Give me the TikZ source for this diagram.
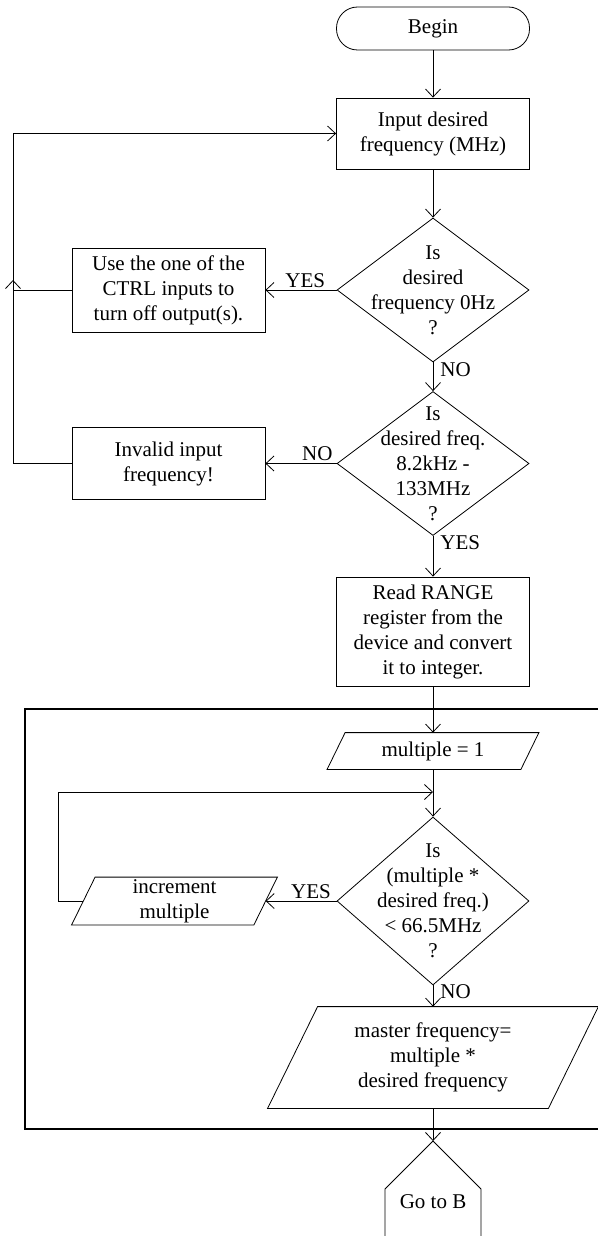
\documentclass[tikz,border=0pt]{standalone}
\usepackage{fontspec}
\setmainfont{Liberation Serif}
\usetikzlibrary{shapes.geometric,arrows.meta}
% parallelogram round a plain node: #1 node name, #2 half of the slant
\newcommand{\paral}[2]{\draw ([xshift=#2]#1.north west) -- ([xshift=#2]#1.north east)
    -- ([xshift=-#2]#1.south east) -- ([xshift=-#2]#1.south west) -- cycle;}
\begin{document}
\begin{tikzpicture}[x=1pt, y=-1pt, line width=0.8pt,
    every node/.style={font=\fontsize{21}{25}\selectfont, align=center, inner sep=0pt},
    arr/.style={-{Straight Barb[length=8pt,width=15pt]}},
    term/.style={draw, rectangle, rounded corners=21pt, minimum width=193pt, minimum height=43pt},
    proc/.style={draw, rectangle, minimum width=193pt},
    dec/.style={draw, diamond, minimum width=192pt},
    io/.style={rectangle},
    lbl/.style={inner sep=2pt},
    side/.style={lbl, right, xshift=5pt},
    frame/.style={line width=2pt}]
    \useasboundingbox (0,0) rectangle (597,1236);
    % main column
    \node[term] (begin) at (433,28.5) {Begin};
    \node[proc, minimum height=71pt] (input) at (433,133.5) {Input desired\\frequency (MHz)};
    \node[dec, minimum height=144pt] (isz) at (433,290) {};
    \node (iszt) at (isz) {Is\\desired\\frequency 0Hz\\?};
    \node[proc, minimum height=84pt] (ctrl) at (168.5,290) {Use the one of the\\CTRL inputs to\\turn off output(s).};
    \node[dec, minimum height=144pt] (isrng) at (433,463.5) {};
    \node (isrngt) at (isrng) {Is\\desired freq.\\8.2kHz -\\133MHz\\?};
    \node[proc, minimum height=72pt] (inval) at (168.5,463.5) {Invalid input\\frequency!};
    \node[proc, minimum height=109pt] (range) at (433,631.5) {Read RANGE\\register from the\\device and convert\\it to integer.};
    % frame part
    \draw[frame] (615,709) -- (25,709) -- (25,1129) -- (615,1129);
    \node[io, minimum width=193pt, minimum height=36pt] (mult) at (433,751) {multiple = 1};
    \paral{mult}{9pt}
    \node[dec, minimum height=168pt] (islow) at (433,901) {};
    \node (islowt) at (islow) {Is\\(multiple *\\desired freq.)\\< 66.5MHz\\?};
    \node[io, minimum width=181.5pt, minimum height=47pt] (incr) at (174.5,901) {increment\\multiple};
    \paral{incr}{11.75pt}
    \node[io, minimum width=280pt, minimum height=101pt] (master) at (433,1057.5) {master frequency=\\multiple *\\desired frequency};
    \paral{master}{25pt}
    % off page
    \node (gob) at (433,1202) {Go to B};
    \coordinate (gotop) at (433,1141);
    \draw (385,1250) -- (385,1189) -- (gotop) -- (481,1189) -- (481,1250);
    \coordinate (back) at (13,280);
    \coordinate (lft) at (58,792);
    \coordinate (loop) at (433,792);
    % connectors
    \draw[arr] (begin) -- (input);
    \draw[arr] (input) -- (isz);
    \draw[arr] (isz) -- node[lbl, above, pos=0.44] {YES} (ctrl);
    \draw[arr] (isz) -- node[side, near start] {NO} (isrng);
    \draw[arr] (isrng) -- node[lbl, above, pos=0.27] {NO} (inval);
    \draw[arr] (isrng) -- node[side, pos=0.17] {YES} (range);
    \draw[arr] (inval) -| (back);
    \draw[arr] (ctrl) -- (ctrl -| back) |- (input);
    \draw[arr] (range) -- (mult);
    \draw[arr] (mult) -- (islow);
    \draw[arr] (islow) -- node[lbl, above, pos=0.36] {YES} (incr);
    \draw[arr] (incr) -| (lft) -- (loop);
    \draw[arr] (islow) -- node[side, pos=0.3] {NO} (master);
    \draw[arr] (master) -- (gotop);
\end{tikzpicture}
\end{document}
